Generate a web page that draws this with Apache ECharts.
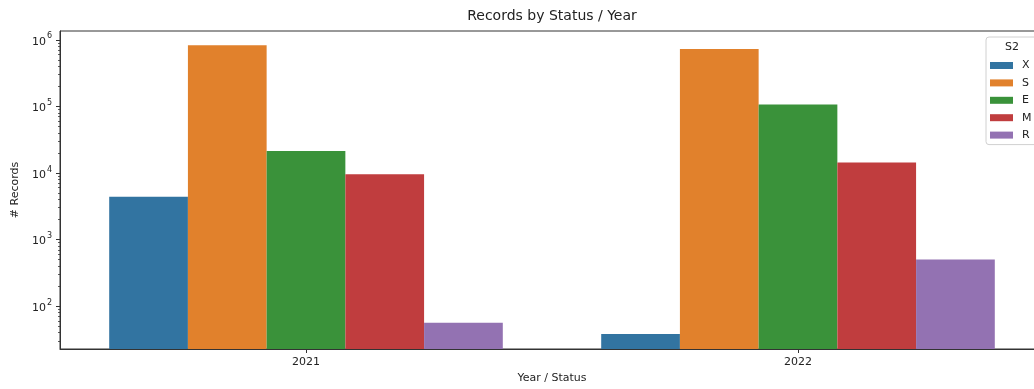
<!DOCTYPE html>
<html>
<head>
<meta charset="utf-8">
<script src="https://cdn.jsdelivr.net/npm/echarts@6/dist/echarts.min.js"></script>
<style>
html,body{margin:0;padding:0;background:#fff;overflow:hidden;}
#chart{width:1060px;height:389px;}
</style>
</head>
<body>
<div id="chart"></div>
<script>
// ---- data ----
const categories = ['2021', '2022'];
const seriesNames = ['X', 'S', 'E', 'M', 'R'];
const valuesX = [4400, 38];
const valuesS = [830000, 730000];
const valuesE = [21400, 107000];
const valuesM = [9600, 14300];
const valuesR = [56, 500];
const yMajorTicks = [100, 1000, 10000, 100000, 1000000];
const colors = ['#3274a1', '#e1812c', '#3a923a', '#c03d3e', '#9372b2'];

const allValues = [valuesX, valuesS, valuesE, valuesM, valuesR];
const yMin = 22.6, yMax = 1.36e6;

// minor tick positions (2..9 x 10^n) within the axis range
const yMinorTicks = [];
for (let e = 1; e <= 6; e++) {
  for (let m = 2; m <= 9; m++) {
    const v = m * Math.pow(10, e);
    if (v >= yMin && v <= yMax) yMinorTicks.push(v);
  }
}

const FONT = 'DejaVu Sans';
const TXT = '#222';

const chart = echarts.init(document.getElementById('chart'), null, {renderer: 'canvas'});
chart.setOption({
  animation: false,
  backgroundColor: '#fff',
  textStyle: {fontFamily: FONT},
  title: [
    {
      text: 'Records by Status / Year',
      left: 552, top: 9, textAlign: 'center', padding: 0,
      textStyle: {fontFamily: FONT, fontSize: 14, fontWeight: 'normal', color: TXT}
    },
    {
      text: 'S2',
      left: 1012, top: 42, textAlign: 'center', padding: 0,
      textStyle: {fontFamily: FONT, fontSize: 11, fontWeight: 'normal', color: TXT}
    }
  ],
  legend: {
    data: seriesNames,
    orient: 'vertical',
    left: 986, top: 37,
    padding: [23, 30, 4, 4],
    itemWidth: 23, itemHeight: 7, itemGap: 6.4,
    icon: 'rect',
    borderColor: '#d0d0d0', borderWidth: 1, borderRadius: 3,
    backgroundColor: 'rgba(255,255,255,0.8)',
    textStyle: {fontFamily: FONT, fontSize: 11, color: TXT, padding: [0, 0, 0, 4]}
  },
  grid: {
    left: 60, top: 31, width: 984, height: 320,
    show: true, borderColor: '#333', borderWidth: 1, backgroundColor: '#fff',
    containLabel: false
  },
  xAxis: {
    type: 'category',
    data: categories,
    name: 'Year / Status',
    nameLocation: 'middle',
    nameGap: 24,
    nameTextStyle: {fontFamily: FONT, fontSize: 11, color: TXT},
    axisLine: {show: true, lineStyle: {color: '#333', width: 1}},
    axisTick: {show: true, alignWithLabel: true, length: 4, lineStyle: {color: '#333'}},
    axisLabel: {fontFamily: FONT, fontSize: 11, color: TXT, margin: 8},
    splitLine: {show: false}
  },
  yAxis: [
    {
      type: 'log',
      min: yMin, max: yMax,
      name: '# Records',
      nameLocation: 'middle',
      nameGap: 38,
      nameTextStyle: {fontFamily: FONT, fontSize: 11, color: TXT},
      axisLine: {show: true, lineStyle: {color: '#333', width: 1}},
      axisTick: {show: true, length: 4, customValues: yMajorTicks, lineStyle: {color: '#333'}},
      axisLabel: {
        customValues: yMajorTicks,
        margin: 8,
        formatter: function (v) {
          const e = Math.round(Math.log10(v));
          return '{b|10}{s|' + e + '}';
        },
        rich: {
          b: {fontFamily: FONT, fontSize: 11, color: TXT, verticalAlign: 'bottom', lineHeight: 15},
          s: {fontFamily: FONT, fontSize: 8, color: TXT, verticalAlign: 'top', lineHeight: 15, padding: [0, 0, 0, 1]}
        }
      },
      splitLine: {show: false},
      minorTick: {show: false}
    },
    {
      type: 'log',
      min: yMin, max: yMax,
      position: 'left',
      axisLine: {show: false},
      axisTick: {show: true, length: 2, customValues: yMinorTicks, lineStyle: {color: '#333', width: 0.8}},
      axisLabel: {show: false},
      splitLine: {show: false}
    }
  ],
  series: seriesNames.map((n, i) => ({
    name: n,
    type: 'bar',
    yAxisIndex: 0,
    data: allValues[i],
    barGap: '0%',
    barCategoryGap: '20%',
    itemStyle: {color: colors[i]}
  }))
});
</script>
</body>
</html>
